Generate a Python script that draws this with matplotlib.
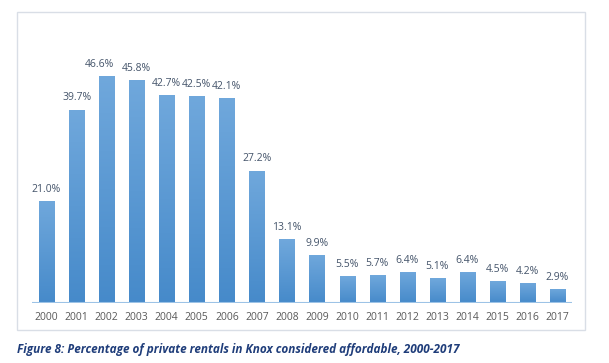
import numpy as np
import matplotlib.pyplot as plt
from matplotlib.patches import Rectangle
from matplotlib.colors import LinearSegmentedColormap

years = ['2000', '2001', '2002', '2003', '2004', '2005', '2006', '2007', '2008',
         '2009', '2010', '2011', '2012', '2013', '2014', '2015', '2016', '2017']
affordable = [21.0, 39.7, 46.6, 45.8, 42.7, 42.5, 42.1, 27.2, 13.1,
              9.9, 5.5, 5.7, 6.4, 5.1, 6.4, 4.5, 4.2, 2.9]

W, H = 609, 363
fig = plt.figure(figsize=(W / 100, H / 100), dpi=100)

# chart border box
fig.patches.append(Rectangle((17.3 / W, 1 - 330.3 / H), 568 / W, 318 / H,
                             transform=fig.transFigure, fill=False,
                             edgecolor='#D9DEE6', linewidth=1.0))

ax = fig.add_axes([31.5 / W, 1 - 303.3 / H, 540.9 / W, 243.9 / H])
x = np.arange(len(years))
bars = ax.bar(x, affordable, width=0.5, color='#5B9BD5', zorder=2)

# vertical gradient on each bar (lighter top, darker bottom)
grad = np.linspace(0, 1, 256).reshape(-1, 1)
cmap = LinearSegmentedColormap.from_list('g', ['#468ACA', '#70A8DC'])
for b in bars:
    bx, by = b.get_x(), b.get_y()
    bw, bh = b.get_width(), b.get_height()
    im = ax.imshow(grad, extent=[bx, bx + bw, by, by + bh], origin='lower',
                   cmap=cmap, aspect='auto', zorder=3)
    im.set_clip_path(b)

for i, (xi, v) in enumerate(zip(x, affordable)):
    dx = -5 if i == 2 else 0  # Excel nudged this label left
    ax.annotate(f'{v:.1f}%', (xi, v), xytext=(dx, 8.5), textcoords='offset points',
                ha='center', va='center', fontsize=7.5, color='#44546A',
                family='Open Sans')

ax.set_xlim(-0.5, len(years) - 0.5)
ax.set_ylim(0, 50)
ax.axhline(0, color='#9DC3E6', linewidth=1.5, zorder=4)
for s in ax.spines.values():
    s.set_visible(False)
ax.set_yticks([])
ax.set_xticks(x)
ax.set_xticklabels(years, fontsize=7.5, color='#595959', family='Open Sans')
ax.tick_params(axis='x', length=0, pad=6)

fig.text(17.3 / W, 1 - 349 / H,
         'Figure 8: Percentage of private rentals in Knox considered affordable, 2000-2017',
         fontsize=8.5, fontweight='bold', fontstyle='italic', color='#1F3D7A',
         family='Open Sans', va='center', ha='left')

fig.savefig('out.png', dpi=100)
